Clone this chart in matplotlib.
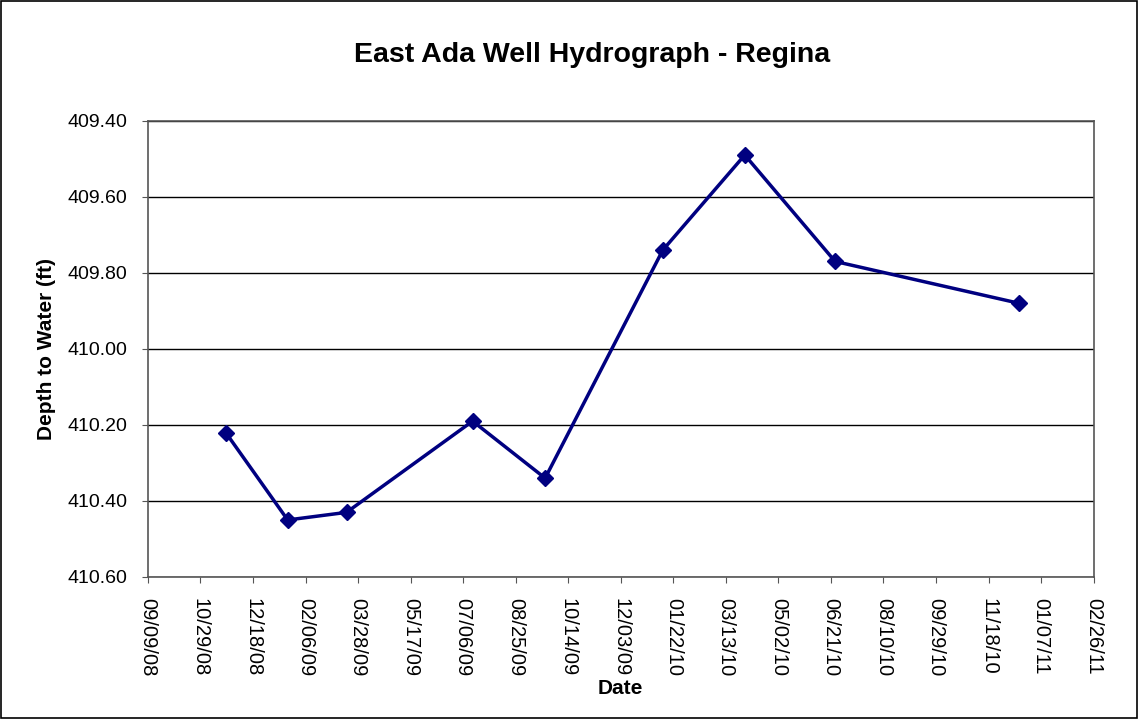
import numpy as np
import pandas as pd
import matplotlib
matplotlib.use("Agg")
import matplotlib.pyplot as plt
import matplotlib.dates as mdates

plt.rcParams['font.family'] = ['Liberation Sans', 'DejaVu Sans']

# readings
dates = ["2008-11-22", "2009-01-20", "2009-03-17", "2009-07-15", "2009-09-22",
         "2010-01-12", "2010-03-31", "2010-06-25", "2010-12-17"]
depth = [410.22, 410.45, 410.43, 410.19, 410.34, 409.74, 409.49, 409.77, 409.88]

x_start = "2008-09-09"
x_end = "2011-02-26"
y_ticks = [409.40, 409.60, 409.80, 410.00, 410.20, 410.40, 410.60]

d = pd.to_datetime(dates)
xticks = pd.date_range(x_start, x_end, freq="50D")

fig = plt.figure(figsize=(11.38, 7.19), dpi=100)
ax = fig.add_axes([0.130, 0.1975, 0.831, 0.6345])

ax.plot(d, depth, color="#000080", lw=2.5, marker="D", ms=8, zorder=3)

ax.set_xlim(pd.Timestamp(x_start), pd.Timestamp(x_end))
ax.set_xticks(xticks)
ax.xaxis.set_major_formatter(mdates.DateFormatter("%m/%d/%y"))
for lab in ax.get_xticklabels():
    lab.set_rotation(-90)
    lab.set_va("top")
    lab.set_ha("center")

ax.set_ylim(410.60, 409.40)
ax.set_yticks(y_ticks)
ax.set_yticklabels([f"{v:.2f}" for v in y_ticks])

ax.yaxis.grid(True, color="black", lw=1)
ax.set_axisbelow(True)
for s in ax.spines.values():
    s.set_color("#555555")
    s.set_linewidth(1.2)
    s.set_zorder(2.5)
ax.tick_params(axis="both", length=4, color="#555555", direction="out", pad=11)
ax.tick_params(axis="x", labelsize=14.5)
ax.tick_params(axis="y", labelsize=14)

fig.text(0.52, 0.923, "East Ada Well Hydrograph - Regina", fontsize=20.5,
         fontweight="bold", ha="center", va="center")
ax.set_xlabel("Date", fontsize=15, fontweight="bold", labelpad=2)
ax.set_ylabel("Depth to Water (ft)", fontsize=15, fontweight="bold", labelpad=8)

fig.patches.append(plt.Rectangle((0.001, 0.002), 0.998, 0.996, transform=fig.transFigure,
                                 fill=False, edgecolor="black", lw=1.2))

plt.savefig("out.png", dpi=100)
